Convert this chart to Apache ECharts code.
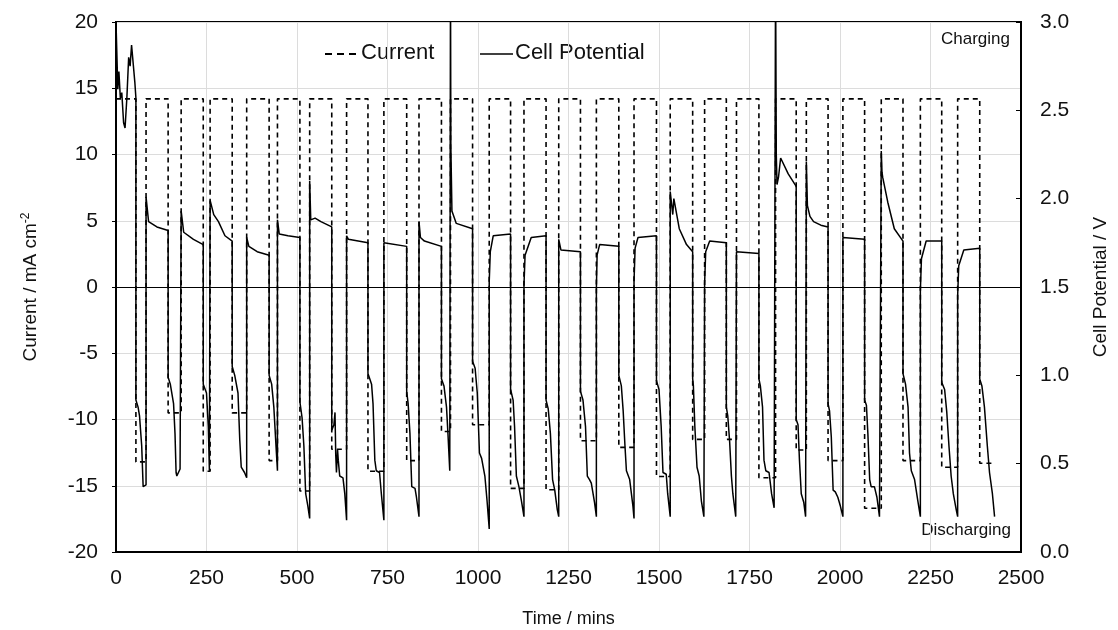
<!DOCTYPE html>
<html>
<head>
<meta charset="utf-8">
<script src="https://cdn.jsdelivr.net/npm/echarts@6/dist/echarts.min.js"></script>
<style>
html,body{margin:0;padding:0;background:#fff;}
#chart{width:1118px;height:630px;}
</style>
</head>
<body>
<div id="chart"></div>
<script>
// ---- Data ----
var chargeCurrent = 14.2; // mA cm-2
var chargeStart = [0, 83, 180, 260, 361, 446, 535, 637, 740, 837, 924, 1031, 1127, 1223, 1327, 1431, 1531, 1626, 1714, 1822, 1907, 2008, 2114, 2222, 2325];
var chargeEnd   = [55, 144, 241, 321, 423, 508, 596, 696, 803, 899, 985, 1090, 1188, 1283, 1389, 1493, 1593, 1686, 1776, 1879, 1967, 2068, 2174, 2281, 2386];
var dischargeCurrent = [-13.2, -9.5, -13.9, -9.5, -13.1, -15.4, -12.25, -13.9, -13.1, -10.9, -10.4, -15.2, -15.3, -11.6, -12.1, -14.3, -11.5, -11.5, -14.4, -12.3, -13.1, -16.7, -13.1, -13.6, -13.3];
var endTime = 2429;

// Cell potential [time (min), V]
var cellPotential = [
[0,3.0],[5,2.62],[8,2.72],[12,2.57],[16,2.60],[21,2.43],[25,2.40],[30,2.57],[35,2.80],[39,2.75],[43,2.87],[48,2.88],[52,2.66],[55,2.57],
[55,0.86],[61,0.82],[65,0.77],[71,0.60],[75,0.37],[83,0.38],
[83,2.01],[90,1.87],[113,1.84],[144,1.82],
[144,0.99],[150,0.95],[159,0.84],[163,0.67],[166,0.45],[168,0.43],[177,0.47],[180,0.47],
[180,1.93],[187,1.81],[214,1.77],[241,1.74],
[241,0.95],[250,0.90],[255,0.71],[258,0.46],[260,0.46],
[260,1.99],[270,1.91],[283,1.87],[301,1.79],[321,1.76],
[321,1.05],[328,1.00],[337,0.90],[342,0.63],[346,0.48],[355,0.45],[361,0.42],
[361,1.78],[367,1.73],[390,1.70],[423,1.68],
[423,1.00],[430,0.95],[436,0.82],[442,0.60],[446,0.46],
[446,1.88],[451,1.80],[475,1.79],[508,1.78],
[508,0.85],[514,0.76],[519,0.60],[524,0.33],[530,0.26],[535,0.19],
[535,2.10],[538,1.88],[550,1.89],[566,1.87],[596,1.84],
[596,0.69],[602,0.72],[605,0.79],[607,0.55],[609,0.45],[612,0.58],[614,0.52],[618,0.43],[627,0.42],[632,0.33],[637,0.18],
[637,1.79],[642,1.77],[696,1.75],
[696,1.01],[706,0.95],[710,0.84],[715,0.52],[719,0.46],[728,0.45],[733,0.33],[740,0.18],
[740,1.75],[803,1.73],
[803,0.91],[807,0.84],[812,0.67],[817,0.37],[826,0.36],[830,0.31],[837,0.20],
[837,1.87],[841,1.78],[852,1.76],[899,1.73],
[899,0.98],[906,0.94],[913,0.82],[917,0.67],[922,0.46],[924,0.46],
[924,3.3],[925,2.3],[928,1.93],[940,1.86],[985,1.83],
[985,1.08],[992,1.04],[998,0.90],[1004,0.56],[1010,0.53],[1019,0.43],[1025,0.29],[1031,0.13],
[1031,1.53],[1034,1.70],[1042,1.79],[1090,1.80],
[1090,0.92],[1097,0.86],[1101,0.71],[1106,0.43],[1113,0.37],[1120,0.29],[1127,0.20],
[1127,1.51],[1130,1.68],[1147,1.78],[1188,1.79],
[1188,0.86],[1194,0.81],[1200,0.67],[1206,0.41],[1212,0.35],[1219,0.24],[1223,0.20],
[1223,1.77],[1229,1.71],[1283,1.70],
[1283,0.91],[1290,0.86],[1297,0.71],[1302,0.43],[1308,0.41],[1313,0.39],[1322,0.28],[1327,0.20],
[1327,1.49],[1329,1.68],[1336,1.74],[1389,1.73],
[1389,1.00],[1396,0.94],[1401,0.80],[1406,0.60],[1410,0.46],[1419,0.41],[1428,0.26],[1431,0.19],
[1431,1.53],[1434,1.72],[1442,1.78],[1493,1.79],
[1493,0.97],[1500,0.92],[1506,0.71],[1511,0.45],[1520,0.44],[1524,0.33],[1531,0.20],
[1531,2.04],[1538,1.91],[1541,2.00],[1556,1.83],[1576,1.74],[1593,1.70],
[1593,0.98],[1595,0.94],[1599,0.71],[1605,0.48],[1611,0.43],[1617,0.29],[1624,0.20],[1626,0.20],
[1626,1.52],[1629,1.70],[1640,1.76],[1686,1.75],
[1686,0.82],[1690,0.77],[1695,0.63],[1700,0.43],[1704,0.33],[1712,0.20],[1714,0.20],
[1714,1.70],[1776,1.69],
[1776,0.98],[1780,0.94],[1786,0.82],[1790,0.52],[1795,0.46],[1804,0.45],[1811,0.33],[1818,0.25],[1822,0.25],
[1822,3.3],[1824,2.25],[1826,2.08],[1830,2.12],[1836,2.23],[1857,2.14],[1879,2.07],
[1879,0.75],[1884,0.72],[1888,0.52],[1893,0.33],[1900,0.28],[1905,0.20],[1907,0.20],
[1907,2.21],[1910,1.96],[1917,1.90],[1927,1.87],[1947,1.85],[1967,1.84],
[1967,0.84],[1971,0.80],[1976,0.65],[1981,0.35],[1987,0.34],[1994,0.31],[2001,0.26],[2008,0.20],
[2008,1.78],[2068,1.77],
[2068,0.86],[2073,0.83],[2077,0.67],[2082,0.41],[2086,0.37],[2095,0.37],[2102,0.31],[2109,0.20],[2114,0.20],
[2114,2.27],[2116,2.15],[2118,2.12],[2132,1.98],[2150,1.83],[2174,1.76],
[2174,1.01],[2181,0.95],[2188,0.82],[2192,0.56],[2197,0.46],[2206,0.41],[2215,0.29],[2222,0.20],
[2222,1.48],[2225,1.66],[2238,1.76],[2281,1.76],
[2281,0.96],[2289,0.92],[2295,0.79],[2301,0.60],[2307,0.43],[2313,0.33],[2321,0.24],[2325,0.20],
[2325,1.45],[2328,1.62],[2342,1.71],[2386,1.72],
[2386,0.98],[2392,0.94],[2399,0.82],[2407,0.60],[2413,0.45],[2421,0.33],[2427,0.20]
];

var xTicks = {min: 0, max: 2500, interval: 250};
var leftTicks = {min: -20, max: 20, interval: 5};
var rightTicks = {min: 0, max: 3, interval: 0.5};
var legendNames = ['Current', 'Cell Potential'];

// ---- Build current step series ----
var currentData = [];
for (var i = 0; i < chargeStart.length; i++) {
  var next = (i + 1 < chargeStart.length) ? chargeStart[i + 1] : endTime;
  currentData.push([chargeStart[i], chargeCurrent]);
  currentData.push([chargeEnd[i], chargeCurrent]);
  currentData.push([chargeEnd[i], dischargeCurrent[i]]);
  currentData.push([next, dischargeCurrent[i]]);
}

var FONT = 'Liberation Sans, Arial, sans-serif';
var TXT = '#111';
var chart = echarts.init(document.getElementById('chart'), null, {renderer: 'canvas'});
chart.setOption({
  animation: false,
  backgroundColor: '#fff',
  textStyle: {fontFamily: FONT},
  grid: {left: 116, right: 97, top: 22, bottom: 78, show: true, borderColor: '#000', borderWidth: 2, backgroundColor: 'transparent', containLabel: false, outerBoundsMode: 'none'},
  xAxis: {
    type: 'value', min: xTicks.min, max: xTicks.max, interval: xTicks.interval,
    name: 'Time / mins', nameLocation: 'middle', nameGap: 58,
    nameTextStyle: {fontSize: 18, color: TXT, fontFamily: FONT},
    axisLine: {show: true, onZero: false, lineStyle: {color: '#000', width: 2}},
    axisTick: {show: false},
    axisLabel: {fontSize: 21, color: TXT, margin: 16, fontFamily: FONT, formatter: function (v) { return String(v); }},
    splitLine: {show: true, lineStyle: {color: '#dcdcdc', width: 1}}
  },
  yAxis: [{
    type: 'value', min: leftTicks.min, max: leftTicks.max, interval: leftTicks.interval,
    name: '{n|Current / mA cm}{s|-2}', nameLocation: 'middle', nameGap: 74, nameRotate: 90,
    nameTextStyle: {color: TXT, rich: {
      n: {fontSize: 19, color: TXT, fontFamily: FONT, lineHeight: 22},
      s: {fontSize: 12, color: TXT, fontFamily: FONT, verticalAlign: 'top', lineHeight: 22, padding: [0, 0, 9, 0]}
    }},
    axisLine: {show: true, onZero: false, lineStyle: {color: '#000', width: 2}},
    axisTick: {show: true, length: 4, lineStyle: {color: '#000'}},
    axisLabel: {fontSize: 21, color: TXT, margin: 18, fontFamily: FONT},
    splitLine: {show: true, lineStyle: {color: '#dcdcdc', width: 1}}
  }, {
    type: 'value', position: 'right', min: rightTicks.min, max: rightTicks.max, interval: rightTicks.interval,
    name: 'Cell Potential / V', nameLocation: 'middle', nameGap: 70, nameRotate: 90,
    nameTextStyle: {fontSize: 19, color: TXT, fontFamily: FONT},
    axisLine: {show: true, onZero: false, lineStyle: {color: '#000', width: 2}},
    axisTick: {show: true, inside: true, length: 5, lineStyle: {color: '#000'}},
    axisLabel: {fontSize: 21, color: TXT, margin: 19, fontFamily: FONT, formatter: function (v) { return v.toFixed(1); }},
    splitLine: {show: false}
  }],
  series: [{
    name: legendNames[0], type: 'line', yAxisIndex: 0, data: currentData,
    symbol: 'none', clip: true,
    lineStyle: {color: '#000', width: 1.6, type: [5, 4]},
    itemStyle: {color: '#000'},
    markLine: {
      silent: true, symbol: 'none', label: {show: false},
      lineStyle: {color: '#000', width: 1, type: 'solid'},
      data: [{yAxis: 0}]
    },
    z: 2
  }, {
    name: legendNames[1], type: 'line', yAxisIndex: 1, data: cellPotential,
    symbol: 'none', clip: true,
    lineStyle: {color: '#000', width: 1.5, type: 'solid'},
    itemStyle: {color: '#000'},
    z: 3
  }],
  graphic: [
    {type: 'line', shape: {x1: 325, y1: 54, x2: 359, y2: 54}, style: {stroke: '#000', lineWidth: 1.8, lineDash: [7, 5]}},
    {type: 'text', left: 361, top: 42, style: {text: legendNames[0], font: '22px ' + FONT, fill: TXT}},
    {type: 'line', shape: {x1: 480, y1: 54, x2: 513, y2: 54}, style: {stroke: '#000', lineWidth: 1.6}},
    {type: 'text', left: 515, top: 42, style: {text: legendNames[1], font: '22px ' + FONT, fill: TXT}},
    {type: 'text', right: 108, top: 31, style: {text: 'Charging', font: '17px ' + FONT, fill: TXT}},
    {type: 'text', right: 107, top: 522, style: {text: 'Discharging', font: '17px ' + FONT, fill: TXT}}
  ]
});
</script>
</body>
</html>
